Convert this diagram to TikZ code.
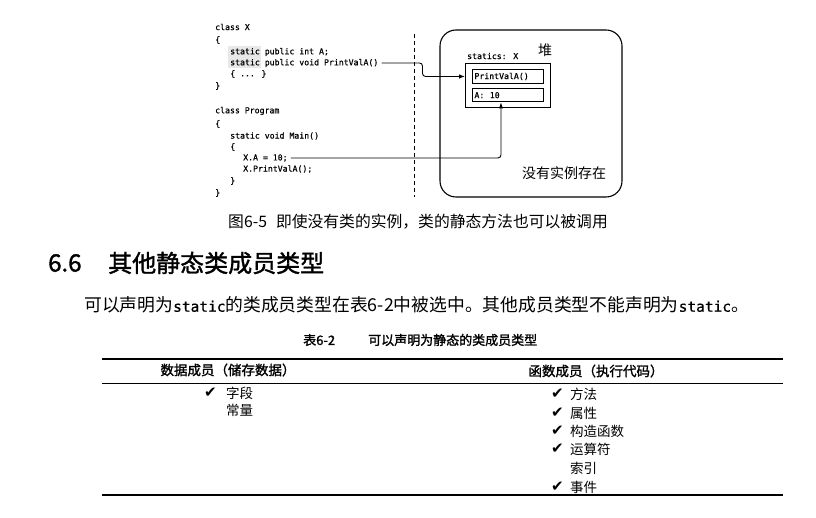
\documentclass[tikz,border=0pt]{standalone}
\usepackage{fontspec}
\usepackage{tikz}
\usetikzlibrary{calc,arrows.meta}
\setmainfont{Noto Sans CJK SC}
\newfontfamily\cjkfont{Noto Sans CJK SC}
\newfontfamily\cjkbold[FakeBold=1.5]{Noto Sans CJK SC}
\newfontfamily\codefont[FakeBold=0.6]{DejaVu Sans Mono}
\newfontfamily\symbfont{DejaVu Sans}
\newcommand{\fsz}[1]{\fontsize{#1}{#1}\selectfont}

\begin{document}
\begin{tikzpicture}[x=1pt,y=-1pt,
  code/.style={anchor=west,inner sep=0,font=\codefont\fsz{8.2}},
  cell/.style={draw,line width=0.9,anchor=north west,text width=67pt,inner xsep=2pt,
    minimum height=13.5,align=left,font=\codefont\fsz{8.2}},
  txt/.style={anchor=west,inner sep=0,font=\cjkfont\fsz{#1}},
  chk/.style={anchor=west,inner sep=0,font=\symbfont\fsz{15}},
  arr/.style={-{Latex[length=6pt,width=4.5pt]},line width=0.9,rounded corners=3}]
\useasboundingbox (0,0) rectangle (816,518);

% code listing on the left
\fill[gray!18] (228,46) rectangle (261,68);
\node[code] (cx)   at (215,27)  {class X};
\node[code]        at (215,40)  {\{};
\node[code] (sa)   at (230,52)  {static public int A;};
\node[code] (pv)   at (230,63)  {static public void PrintValA()};
\node[code]        at (230,74)  {\{ ... \}};
\node[code]        at (215,86)  {\}};
\node[code] (cp)   at (215,111) {class Program};
\node[code]        at (215,124) {\{};
\node[code] (mn)   at (230,136) {static void Main()};
\node[code]        at (230,147) {\{};
\node[code] (xa)   at (243,158) {X.A = 10;};
\node[code] (xp)   at (243,169) {X.PrintValA();};
\node[code]        at (230,181) {\}};
\node[code]        at (215,193) {\}};

% dashed separator
\draw[line width=1,dash pattern=on 4pt off 3pt] (414,34) -- (414,197);

% heap with the statics of X
\draw[line width=1.1,rounded corners=16] (440,30) rectangle (622,197);
\node[txt=14] (heap) at (538,50) {堆};
\node[code] (sx) at (467,56) {statics: X};
\node[draw,line width=1.1,anchor=north west,minimum width=85,minimum height=44,inner sep=0] (stat) at (465,63) {};
\node[cell] (pvbox) at (472,69) {PrintValA()};
\node[cell] (abox)  at (472,88) {A:\ \ 10};
\node[txt=14] (none) at (522,173) {没有实例存在};

% connectors
\draw[arr] ([xshift=3]pv.east) -- ++(41,0) |- (stat.west |- pvbox.center);
\draw[arr] ([xshift=3]xa.east) -| ([xshift=-7]abox.south);

% caption and section text
\node[txt=15.8] (cap) at (228,222) {图6-5\hspace{9pt}即使没有类的实例，类的静态方法也可以被调用};
\node[anchor=west,inner sep=0,font=\cjkbold\fsz{24}] (secno) at (48,263) {6.6};
\node[anchor=west,inner sep=0,font=\cjkbold\fsz{24}] (sec) at (108,263) {其他静态类成员类型};
\node[txt=17.8] (para) at (84,305) {可以声明为{\codefont\fsz{14.5}static}的类成员类型在表6-2中被选中。其他成员类型不能声明为{\codefont\fsz{14.5}static}。};
\node[anchor=west,inner sep=0,font=\cjkbold\fsz{13}] (tabno) at (303,340) {表6-2};
\node[anchor=west,inner sep=0,font=\cjkbold\fsz{13}] (tabcap) at (368,340) {可以声明为静态的类成员类型};

% table
\draw[line width=1.6] (102,359) -- (783,359);
\draw[line width=0.9] (102,383) -- (783,383);
\draw[line width=1.6] (102,495) -- (783,495);
\node[inner sep=0,font=\cjkbold\fsz{13.5}] (hd) at (228,370) {数据成员（储存数据）};
\node[inner sep=0,font=\cjkbold\fsz{13.5}] (hf) at (596,371) {函数成员（执行代码）};

\node[chk] at (204,393) {✔}; \node[txt=13.5] (fld) at (226,393) {字段};
\node[txt=13.5] (cst) at (226,410) {常量};

\node[chk] at (551,394) {✔}; \node[txt=13.5] (mth) at (570,394) {方法};
\node[chk] at (551,413) {✔}; \node[txt=13.5] (prp) at (570,413) {属性};
\node[chk] at (551,431) {✔}; \node[txt=13.5] (ctr) at (570,431) {构造函数};
\node[chk] at (551,449) {✔}; \node[txt=13.5] (opr) at (570,449) {运算符};
\node[txt=13.5] (idx) at (570,468) {索引};
\node[chk] at (551,487) {✔}; \node[txt=13.5] (evt) at (570,487) {事件};
\end{tikzpicture}
\end{document}
